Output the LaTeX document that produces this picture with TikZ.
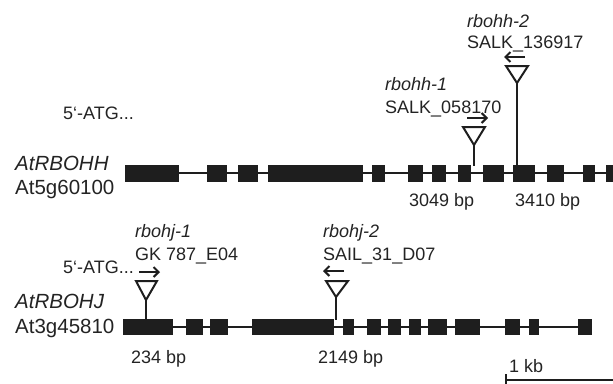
\documentclass[tikz,border=0pt]{standalone}
\usepackage{fontspec}
\setmainfont{Liberation Sans}
\usetikzlibrary{arrows.meta}
\definecolor{ink}{RGB}{30,30,30}
\definecolor{txt}{RGB}{35,35,35}
\tikzset{
  exon/.style={fill=ink},
  intron/.style={draw=ink,line width=1.8pt},
  stem/.style={draw=ink,line width=2pt},
  ins/.style={draw=ink,line width=2pt,fill=white,line join=miter},
  dirarrow/.style={draw=ink,line width=2pt,-{Straight Barb[length=5pt,width=10pt]}},
  lbl/.style={inner sep=0pt,anchor=base west,text=txt,font=\fontsize{18}{20}\selectfont},
  glbl/.style={inner sep=0pt,anchor=base west,text=txt,font=\fontsize{20.5}{22}\selectfont},
}
\begin{document}
\begin{tikzpicture}[x=1pt,y=-1pt]
\useasboundingbox (0,0) rectangle (613,383);
% ---------- Row 1: AtRBOHH ----------
\coordinate (r1s) at (125,173);
\coordinate (r1e) at (613,173);
\draw[intron] (r1s) -- (r1e);
\foreach \a/\b in {125/179,207/227,238/258,268/363,372/385,408/423,432/446,458/471,483/504,513/535,547/564,583/595,606/614}
  \fill[exon] (\a,165) rectangle (\b,182);
\node[glbl] (g1) at (15,170) {\itshape AtRBOHH};
\node[glbl] (g1id) at (15,194) {At5g60100};
\node[lbl] (atg1) at (63,119) {5‘-ATG...};
% insertion rbohh-1
\coordinate (h1tip) at (474,145);
\coordinate (h1foot) at (474,166);
\draw[stem] (h1tip) -- (h1foot);
\draw[ins] (463,127) -- (485,127) -- (h1tip) -- cycle;
\coordinate (h1as) at (467,118);
\coordinate (h1ae) at (488,118);
\draw[dirarrow] (h1as) -- (h1ae);
\node[lbl] (h1name) at (385,90) {\itshape rbohh-1};
\node[lbl] (h1line) at (385,113) {SALK\_058170};
\node[lbl] (h1bp) at (409,206) {3049 bp};
% insertion rbohh-2
\coordinate (h2tip) at (517,83);
\coordinate (h2foot) at (517,166);
\draw[stem] (h2tip) -- (h2foot);
\draw[ins] (506,66) -- (528,66) -- (h2tip) -- cycle;
\coordinate (h2as) at (525,57);
\coordinate (h2ae) at (504,57);
\draw[dirarrow] (h2as) -- (h2ae);
\node[lbl] (h2name) at (467,27) {\itshape rbohh-2};
\node[lbl] (h2line) at (467,48) {SALK\_136917};
\node[lbl] (h2bp) at (515,206) {3410 bp};
% ---------- Row 2: AtRBOHJ ----------
\coordinate (r2s) at (123,327);
\coordinate (r2e) at (578,327);
\draw[intron] (r2s) -- (r2e);
\foreach \a/\b in {123/173,186/203,210/228,252/334,343/354,367/381,388/401,409/421,428/447,455/480,505/520,529/539,578/592}
  \fill[exon] (\a,319) rectangle (\b,335);
\node[glbl] (g2) at (15,308) {\itshape AtRBOHJ};
\node[glbl] (g2id) at (15,333) {At3g45810};
\node[lbl] (atg2) at (63,273) {5‘-ATG...};
% insertion rbohj-1
\coordinate (j1tip) at (146,300);
\coordinate (j1foot) at (146,320);
\draw[stem] (j1tip) -- (j1foot);
\draw[ins] (136,281) -- (157,281) -- (j1tip) -- cycle;
\coordinate (j1as) at (139,272);
\coordinate (j1ae) at (160,272);
\draw[dirarrow] (j1as) -- (j1ae);
\node[lbl] (j1name) at (135,237) {\itshape rbohj-1};
\node[lbl] (j1line) at (135,260) {GK 787\_E04};
\node[lbl] (j1bp) at (131,363) {234 bp};
% insertion rbohj-2
\coordinate (j2tip) at (336,297);
\coordinate (j2foot) at (336,320);
\draw[stem] (j2tip) -- (j2foot);
\draw[ins] (326,281) -- (348,281) -- (j2tip) -- cycle;
\coordinate (j2as) at (344,271);
\coordinate (j2ae) at (323,271);
\draw[dirarrow] (j2as) -- (j2ae);
\node[lbl] (j2name) at (323,237) {\itshape rbohj-2};
\node[lbl] (j2line) at (323,260) {SAIL\_31\_D07};
\node[lbl] (j2bp) at (318,363) {2149 bp};
% ---------- scale bar ----------
\coordinate (sbl) at (506,380);
\coordinate (sbr) at (614,380);
\coordinate (sbt) at (506,374);
\coordinate (sbb) at (506,384);
\draw[stem] (sbl) -- (sbr);
\draw[stem] (sbt) -- (sbb);
\node[lbl] (kb) at (509,372) {1 kb};
\end{tikzpicture}
\end{document}
